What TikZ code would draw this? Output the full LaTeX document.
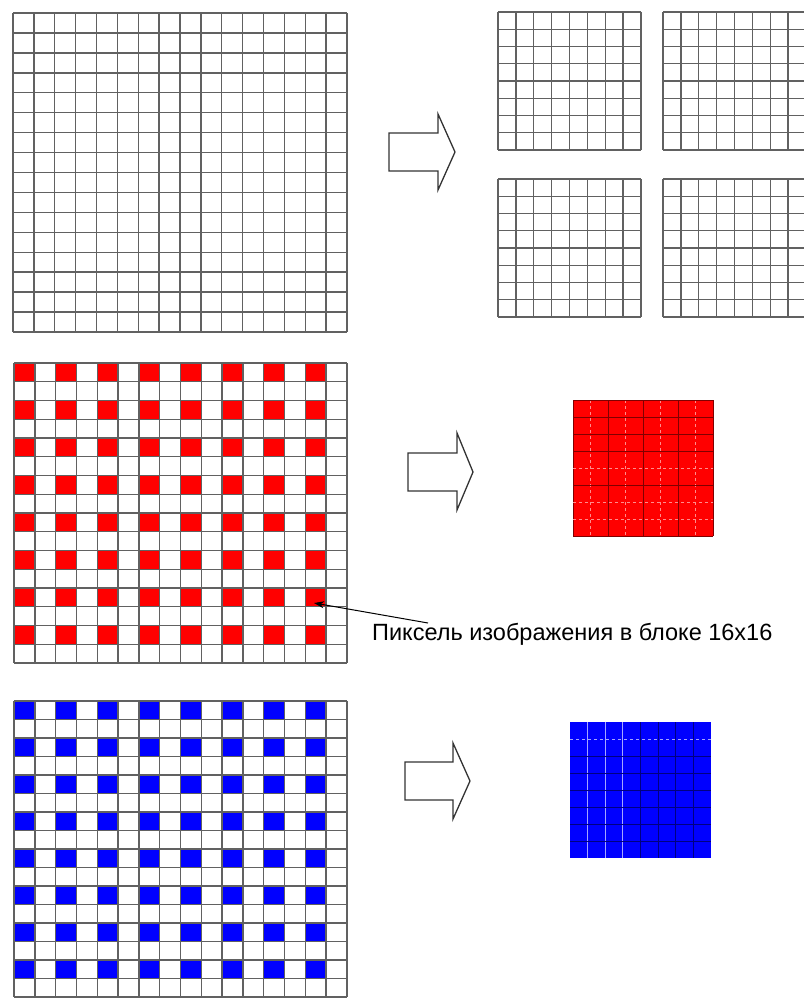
\documentclass[tikz,border=0pt]{standalone}
\usepackage{fontspec}
\setmainfont{Liberation Sans}
\usetikzlibrary{arrows.meta}
\tikzset{
  gridline/.style={draw=black!62, line width=1.4pt},
  redline/.style={draw=red!50!black, line width=1.0pt},
  redlight/.style={draw=red!45!white, line width=0.9pt, dashed},
  blueline/.style={draw=blue!50!black, line width=1.0pt},
  bluelight/.style={draw=blue!35!white, line width=0.9pt},
  blockarrow/.style={draw=black!80, line width=1.3pt, fill=white, line join=miter},
  pointer/.style={draw=black, line width=1pt, -{Stealth[length=10pt,width=7pt]}}
}
\begin{document}
\begin{tikzpicture}[x=1pt,y=-1pt]
\useasboundingbox (0,0) rectangle (803,998);
% ---- top big grid 16x16
\foreach \i in {0,...,16} {
  \draw[gridline] ({13+\i*334/16},13) -- ({13+\i*334/16},332);
  \draw[gridline] (13,{13+\i*319/16}) -- (347,{13+\i*319/16});
}
% ---- four small 8x8 grids
\foreach \gx/\gy in {498/12, 663/12, 498/179, 663/179} {
  \foreach \i in {0,...,8} {
    \draw[gridline] ({\gx+\i*143/8},\gy) -- ({\gx+\i*143/8},{\gy+138});
    \draw[gridline] (\gx,{\gy+\i*138/8}) -- ({\gx+143},{\gy+\i*138/8});
  }
}
% ---- block arrows
\draw[blockarrow] (389,133) -- (438,133) -- (438,114) -- (455,152) -- (438,190) -- (438,171) -- (389,171) -- cycle;
\draw[blockarrow] (408,453) -- (457,453) -- (457,433) -- (473,472) -- (457,510) -- (457,491) -- (408,491) -- cycle;
\draw[blockarrow] (405,762) -- (453,762) -- (453,743) -- (470,781) -- (453,819) -- (453,800) -- (405,800) -- cycle;
% ---- red sampled grid
\foreach \r in {0,2,...,14} {
  \foreach \c in {0,2,...,14} {
    \fill[red] ({14+\c*333/16},{363+\r*300/16}) rectangle ({14+(\c+1)*333/16},{363+(\r+1)*300/16});
  }
}
\foreach \i in {0,...,16} {
  \draw[gridline] ({14+\i*333/16},363) -- ({14+\i*333/16},663);
  \draw[gridline] (14,{363+\i*300/16}) -- (347,{363+\i*300/16});
}
% ---- red block 8x8
\fill[red] (573,400) rectangle (713,536);
\foreach \i in {1,3,5,7} {
  \draw[redlight] ({573+\i*140/8},400) -- ({573+\i*140/8},536);
}
\foreach \i in {0,2,4,6,8} {
  \draw[redline] ({573+\i*140/8},400) -- ({573+\i*140/8},536);
}
\foreach \i in {4,6,7} {
  \draw[redlight] (573,{400+\i*136/8}) -- (713,{400+\i*136/8});
}
\foreach \i in {0,1,2,3,5,8} {
  \draw[redline] (573,{400+\i*136/8}) -- (713,{400+\i*136/8});
}
% ---- blue sampled grid
\foreach \r in {0,2,...,14} {
  \foreach \c in {0,2,...,14} {
    \fill[blue] ({14+\c*333/16},{701+\r*296/16}) rectangle ({14+(\c+1)*333/16},{701+(\r+1)*296/16});
  }
}
\foreach \i in {0,...,16} {
  \draw[gridline] ({14+\i*333/16},701) -- ({14+\i*333/16},997);
  \draw[gridline] (14,{701+\i*296/16}) -- (347,{701+\i*296/16});
}
% ---- blue block 8x8
\fill[blue] (570,722) rectangle (711,858);
\foreach \i in {1,2,3} {
  \draw[bluelight] ({570+\i*141/8},722) -- ({570+\i*141/8},858);
}
\foreach \i in {4,5,6,7} {
  \draw[blueline] ({570+\i*141/8},722) -- ({570+\i*141/8},858);
}
\draw[bluelight, dashed] (570,{722+136/8}) -- (711,{722+136/8});
\foreach \i in {2,...,7} {
  \draw[blueline] (570,{722+\i*136/8}) -- (711,{722+\i*136/8});
}
% ---- annotation
\node[anchor=base west, inner sep=0pt, font=\fontsize{23.5}{24}\selectfont] (lbl) at (372,640) {Пиксель изображения в блоке 16x16};
\coordinate (pix) at (314,603);
\coordinate (lblstart) at (428,623);
\draw[pointer] (lblstart) -- (pix);
\end{tikzpicture}
\end{document}
